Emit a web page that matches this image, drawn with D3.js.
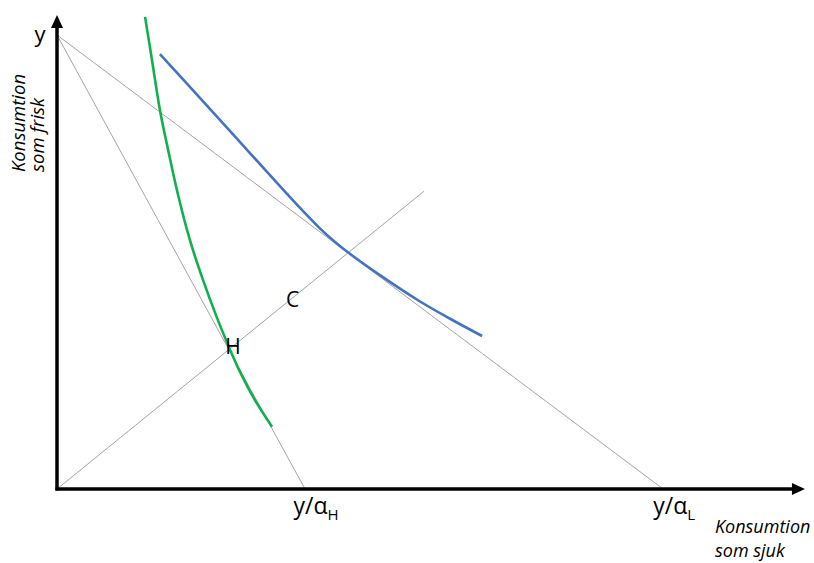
<!DOCTYPE html>
<html><head><meta charset="utf-8">
<script src="https://cdn.jsdelivr.net/npm/d3@7"></script>
<style>body{margin:0;background:#fff}svg{display:block}</style>
</head><body>
<script>
// Data (normalized: y = 1, y/alphaH = 1)
const endowment = 1;
const xH = 1.0;      // y/alphaH
const xL = 2.444;    // y/alphaL
const certainty = [[0,0],[1.480,0.656]];
const greenCurve = [[0.355,1.040],[0.383,0.945],[0.415,0.835],[0.448,0.747],[0.488,0.648],[0.536,0.548],[0.589,0.460],[0.641,0.383],[0.690,0.317],[0.738,0.258],[0.798,0.196],[0.867,0.137]];
const blueCurve = [[0.415,0.958],[0.577,0.861],[0.778,0.740],[0.980,0.619],[1.060,0.574],[1.121,0.544],[1.169,0.523],[1.302,0.471],[1.464,0.413],[1.585,0.375],[1.714,0.337]];
const points = [{name:"C",x:0.950,y:0.401},{name:"H",x:0.710,y:0.297}];

const W=814,H=563;
const svg=d3.select("body").append("svg").attr("width",W).attr("height",H);
const x=d3.scaleLinear().domain([0,1]).range([57,305]);
const y=d3.scaleLinear().domain([0,1]).range([489,35]);
const font="'Open Sans', sans-serif";

const line=d3.line().x(d=>x(d[0])).y(d=>y(d[1]));
const thin=[[[0,endowment],[xH,0]],[[0,endowment],[xL,0]],certainty];
svg.selectAll(".thin").data(thin).join("path").attr("d",line)
  .attr("fill","none").attr("stroke","#9a9a9a").attr("stroke-width",0.9);

const curve=d3.line().x(d=>x(d[0])).y(d=>y(d[1])).curve(d3.curveCatmullRom);
svg.append("path").attr("d",curve(greenCurve)).attr("fill","none").attr("stroke","#10b04e").attr("stroke-width",2.6);
svg.append("path").attr("d",curve(blueCurve)).attr("fill","none").attr("stroke","#4472c4").attr("stroke-width",2.6);

// axes
const x0=x(0), y0=y(0), xEnd=x(3.016), yEnd=y(1.044);
svg.append("line").attr("x1",x0).attr("y1",y0+1.5).attr("x2",x0).attr("y2",yEnd+10).attr("stroke","#000").attr("stroke-width",3.5);
svg.append("line").attr("x1",x0-1.5).attr("y1",y0).attr("x2",xEnd-10).attr("y2",y0).attr("stroke","#000").attr("stroke-width",3.5);
svg.append("path").attr("d",`M${x0},${yEnd} L${x0-6},${yEnd+13} L${x0+6},${yEnd+13}Z`).attr("fill","#000");
svg.append("path").attr("d",`M${xEnd},${y0} L${xEnd-13},${y0-6} L${xEnd-13},${y0+6}Z`).attr("fill","#000");

// labels
svg.append("text").attr("x",x0-17).attr("y",y(endowment)+7).attr("text-anchor","middle")
  .attr("font-family",font).attr("font-size",22).text("y");
function frac(xv,sub){
  const t=svg.append("text").attr("x",x(xv)+11).attr("y",514).attr("text-anchor","middle")
   .attr("font-family",font).attr("font-size",23);
  t.append("tspan").text("y/α");
  t.append("tspan").attr("dy",6).attr("font-size",15).text(sub);
}
frac(xH,"H"); frac(xL,"L");
svg.selectAll(".pt").data(points).join("text").attr("x",d=>x(d.x)).attr("y",d=>y(d.y))
  .attr("text-anchor","middle").attr("font-family",font).attr("font-size",21).text(d=>d.name);

const fs=18;
const gy=svg.append("g").attr("transform","translate(25,172) rotate(-90)");
gy.append("text").attr("x",0).attr("y",0).attr("font-family",font).attr("font-style","italic").attr("font-size",18.5).text("Konsumtion");
gy.append("text").attr("x",0).attr("y",19).attr("font-family",font).attr("font-style","italic").attr("font-size",18.5).text("som frisk");
const gx=svg.append("g").attr("transform","translate(715,533)");
gx.append("text").attr("font-family",font).attr("font-style","italic").attr("font-size",fs).text("Konsumtion");
gx.append("text").attr("y",24).attr("font-family",font).attr("font-style","italic").attr("font-size",fs).text("som sjuk");
</script>
</body></html>
